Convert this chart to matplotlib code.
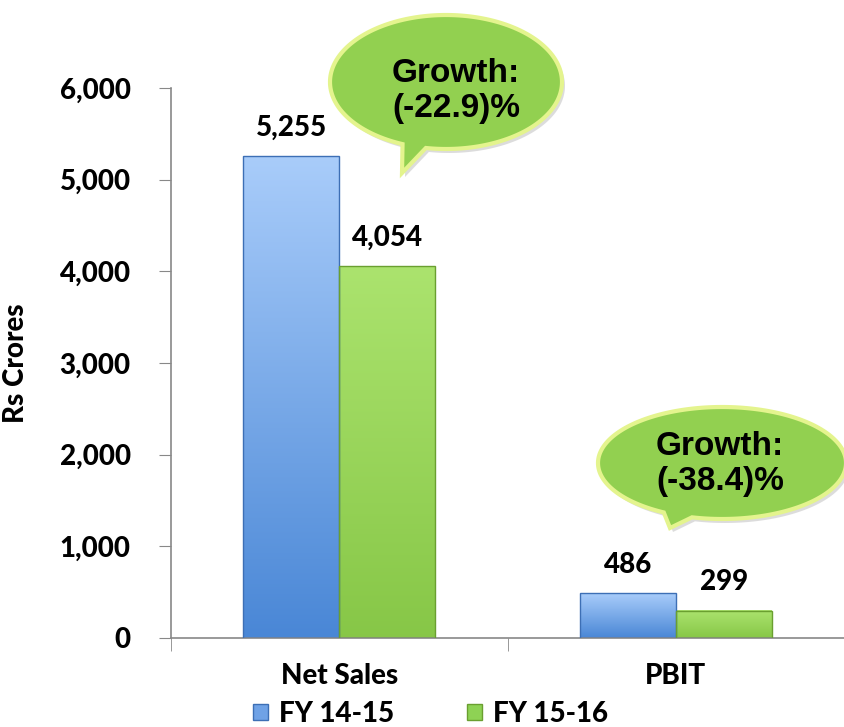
import numpy as np
import matplotlib.pyplot as plt
from matplotlib.patches import Polygon, Patch
from matplotlib.ticker import FuncFormatter

categories = ["Net Sales", "PBIT"]
fy1415 = [5255, 486]
fy1516 = [4054, 299]
series_names = ["FY 14-15", "FY 15-16"]
growth_labels = ["Growth:\n(-22.9)%", "Growth:\n(-38.4)%"]

W, H = 844, 727
WT = "black"
plt.rcParams["font.family"] = ["Lato", "DejaVu Sans"]
plt.rcParams["font.weight"] = WT

fig = plt.figure(figsize=(W / 100, H / 100), dpi=100)
ax = fig.add_axes([171 / W, 89 / H, 1 - 171 / W, 550 / H])

bar_w = 0.285
x = np.arange(len(categories))

blue = ((0.66, 0.80, 0.98), (0.29, 0.53, 0.84), "#3d6fb5")
green = ((0.67, 0.89, 0.43), (0.53, 0.78, 0.28), "#6a9f30")


def grad_bar(ax, xc, h, w, style):
    top, bot, edge = style
    n = 64
    t = np.linspace(0, 1, n)[:, None]
    img = np.zeros((n, 2, 3))
    for k in range(3):
        img[:, :, k] = top[k] * (1 - t) + bot[k] * t
    ax.imshow(img, extent=(xc - w / 2, xc + w / 2, 0, h), aspect="auto",
              origin="upper", zorder=2, interpolation="bilinear")
    ax.bar(xc, h, w, facecolor="none", edgecolor=edge, linewidth=1.0, zorder=3)


for i in range(len(categories)):
    grad_bar(ax, x[i] - bar_w / 2, fy1415[i], bar_w, blue)
    grad_bar(ax, x[i] + bar_w / 2, fy1516[i], bar_w, green)
    for xc, v in [(x[i] - bar_w / 2, fy1415[i]), (x[i] + bar_w / 2, fy1516[i])]:
        ax.annotate(f"{v:,}", (xc, v), xytext=(0, 11), textcoords="offset points",
                    ha="center", va="bottom", fontsize=20, fontweight=WT)

ax.set_xlim(-0.5, 1.5)
ax.set_ylim(0, 6000)
ax.set_yticks(range(0, 6001, 1000))
ax.yaxis.set_major_formatter(FuncFormatter(lambda v, p: f"{int(v):,}"))
ax.set_xticks(x)
ax.set_xticklabels(categories)
ax.set_xticks([-0.5, 0.5, 1.5], minor=True)
ax.tick_params(axis="x", which="major", length=0, pad=18, labelsize=20)
ax.tick_params(axis="x", which="minor", length=9, color="#888888")
ax.tick_params(axis="y", length=9, color="#888888", pad=20, labelsize=20)
ax.set_ylabel("Rs Crores", fontsize=20, fontweight=WT, labelpad=22)
for s in ["top", "right"]:
    ax.spines[s].set_visible(False)
for s in ["left", "bottom"]:
    ax.spines[s].set_color("#888888")
    ax.spines[s].set_linewidth(1.2)


def px(pts):
    pts = np.asarray(pts, dtype=float)
    return np.column_stack([pts[:, 0] / W, 1 - pts[:, 1] / H])


def bubble(cx, cy, rx, ry, a1, a2, tip):
    # ellipse outline in pixel space with a tail between angles a1..a2
    angs = np.linspace(a2, a1 + 360, 200)
    pts = [(cx + rx * np.cos(np.radians(a)), cy + ry * np.sin(np.radians(a))) for a in angs]
    pts.append(tip)
    return px(pts)


bubbles = [
    (446, 82, 116, 67, 100, 112, (402, 173)),
    (722, 463, 124, 56, 104, 118, (670, 528)),
]
text_pos = [(456, 91), (720, 464)]
for (cx, cy, rx, ry, a1, a2, tip), lab, (tx, ty) in zip(bubbles, growth_labels, text_pos):
    shadow = bubble(cx + 3, cy + 4, rx, ry, a1, a2, (tip[0] + 3, tip[1] + 4))
    fig.patches.append(Polygon(shadow, closed=True, transform=fig.transFigure,
                               facecolor="#bbbbbb", edgecolor="none", alpha=0.5, zorder=4))
    fig.patches.append(Polygon(bubble(cx, cy, rx, ry, a1, a2, tip), closed=True,
                               transform=fig.transFigure, facecolor="#92d050",
                               edgecolor="#e4f48e", linewidth=3, zorder=5))
    fig.text(tx / W, 1 - ty / H, lab, ha="center", va="center", fontsize=24,
             fontweight="bold", family=["Liberation Sans", "DejaVu Sans"],
             linespacing=1.2, zorder=6)

handles = [Patch(facecolor="#6fa2e6", edgecolor="#3d6fb5"),
           Patch(facecolor="#8ed254", edgecolor="#6a9f30")]
fig.legend(handles, series_names, loc="center", bbox_to_anchor=(0.51, 0.018), ncol=2,
           frameon=False, handlelength=0.55, handleheight=0.55,
           handletextpad=0.4, columnspacing=2.6, prop={"weight": WT, "size": 20})

fig.savefig("out.png", dpi=100)
